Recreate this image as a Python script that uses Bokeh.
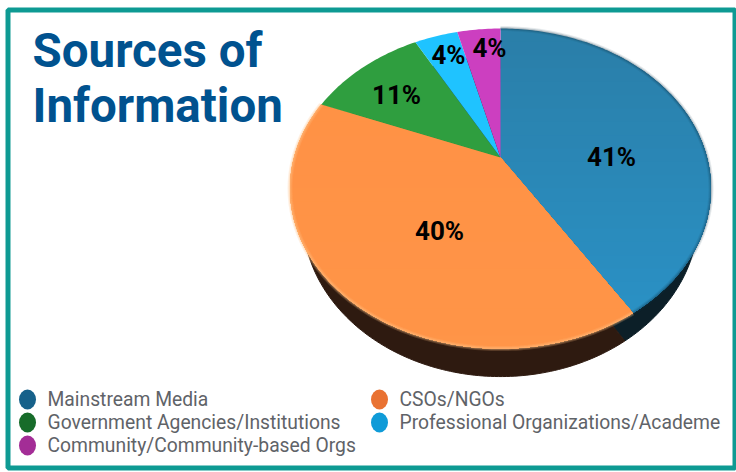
import numpy as np
from bokeh.plotting import figure
from bokeh.models import Range1d
from bokeh.core.properties import value
from bokeh.embed import file_html
from bokeh.resources import INLINE

# ---- data ----
categories = ["Mainstream Media", "CSOs/NGOs", "Government Agencies/Institutions",
              "Professional Organizations/Academe", "Community/Community-based Orgs"]
shares = [41, 40, 11, 4, 4]
share_labels = ["41%", "40%", "11%", "4%", "4%"]
title_lines = ["Sources of", "Information"]

# ---- style ----
face_near = ["#2a93c8", "#ff9548", "#2f9e3f", "#1fc3ff", "#cc3fc0"]
face_far = ["#2a7fa9", "#ff9145", "#2f9e3f", "#1fc3ff", "#cc3fc0"]
wall_colors = ["#0c1f28", "#2e1a10", "#2e1a10", "#2e1a10", "#2e1a10"]
legend_colors = ["#16618a", "#e97232", "#176c2a", "#0f9bd8", "#a32d96"]

W, H = 736, 472
p = figure(width=W, height=H, output_backend="svg", toolbar_location=None,
           x_range=Range1d(0, W), y_range=Range1d(H, 0),
           min_border=0, outline_line_color=None, background_fill_color="white",
           border_fill_color="white")
p.axis.visible = False
p.grid.visible = False

# frame
p.quad(left=[7.5], right=[734.5], top=[9.5], bottom=[467.5], fill_color="white",
       line_color="#0e9a93", line_width=5)

K = 0.194
def view(theta, cx=500.0, cy=157.0, a=206.5, b=154.0):
    X, Y = np.sin(theta), np.cos(theta)
    w = 1 + K * Y
    return cx + a * X / w, cy - b * Y / w

def sector(t0, t1, **kw):
    t = np.linspace(t0, t1, max(3, int(abs(t1 - t0) * 60)))
    x, y = view(t, **kw)
    return np.array([kw.get("cx", 500.0), *x]), np.array([kw.get("cy", 157.0), *y])

def clip_below(xs, ys, level):
    """Part of a polygon with y >= level."""
    ox, oy = [], []
    n = len(xs)
    for i in range(n):
        x0, y0, x1, y1 = xs[i], ys[i], xs[(i + 1) % n], ys[(i + 1) % n]
        if y0 >= level:
            ox.append(x0); oy.append(y0)
        if (y0 >= level) != (y1 >= level):
            f = (level - y0) / (y1 - y0)
            ox.append(x0 + f * (x1 - x0)); oy.append(level)
    return ox, oy

def hex2rgb(h):
    return np.array([int(h[j:j + 2], 16) for j in (1, 3, 5)], float)

edges = np.concatenate([[0], np.cumsum(shares)]) / sum(shares) * 2 * np.pi

# side wall
for i in range(5):
    xs, ys = sector(edges[i], edges[i + 1], cx=500.0, cy=185.0, a=194.0)
    p.patch(xs, ys, fill_color=wall_colors[i], line_color=wall_colors[i], line_width=1)

# top face with a top-to-bottom shading in bands
for i in range(5):
    xs, ys = sector(edges[i], edges[i + 1])
    n = 24 if face_near[i] != face_far[i] else 1
    for j in range(n):
        level = 28 + 320 * j / n
        g = j / max(n - 1, 1)
        c = hex2rgb(face_far[i]) * (1 - g) + hex2rgb(face_near[i]) * g
        col = "#%02x%02x%02x" % tuple(int(v) for v in c)
        ox, oy = clip_below(xs, ys, level)
        if len(ox) > 2:
            p.patch(ox, oy, fill_color=col, line_color=None)

# soft rim, darker on the blue slice, lighter on the orange one
for lw, al in [(5, 0.10), (3, 0.14), (1.5, 0.18)]:
    x, y = view(np.linspace(edges[0], edges[1], 120))
    p.line(x, y, line_color="#12384c", line_alpha=al, line_width=lw)
    x, y = view(np.linspace(edges[1], edges[2], 160))
    p.line(x, y, line_color="#ffc080", line_alpha=al + 0.1, line_width=lw)

# value labels
p.text(x=[611, 439, 396, 448, 489], y=[156, 230, 94, 54, 47], text=share_labels,
       text_font=value("Roboto"), text_font_style="bold", text_font_size="26px",
       text_color="black", text_align="center", text_baseline="middle")

# title
p.text(x=[32, 32], y=[50, 105], text=title_lines, text_font=value("Roboto"),
       text_font_style="bold", text_font_size="47.5px", text_color="#00528f",
       text_align="left", text_baseline="alphabetic")

# legend
lx = [27, 379, 27, 379, 27]
ly = [399, 399, 422, 422, 445]
p.ellipse(x=lx, y=ly, width=17, height=20, fill_color=legend_colors, line_color=None)
p.text(x=[v + 20 for v in lx], y=ly, text=categories, text_font=value("Roboto"),
       text_font_size="19.3px", text_color="#5f6368", text_align="left", text_baseline="middle")

open("out.html", "w").write(file_html(p, INLINE))
